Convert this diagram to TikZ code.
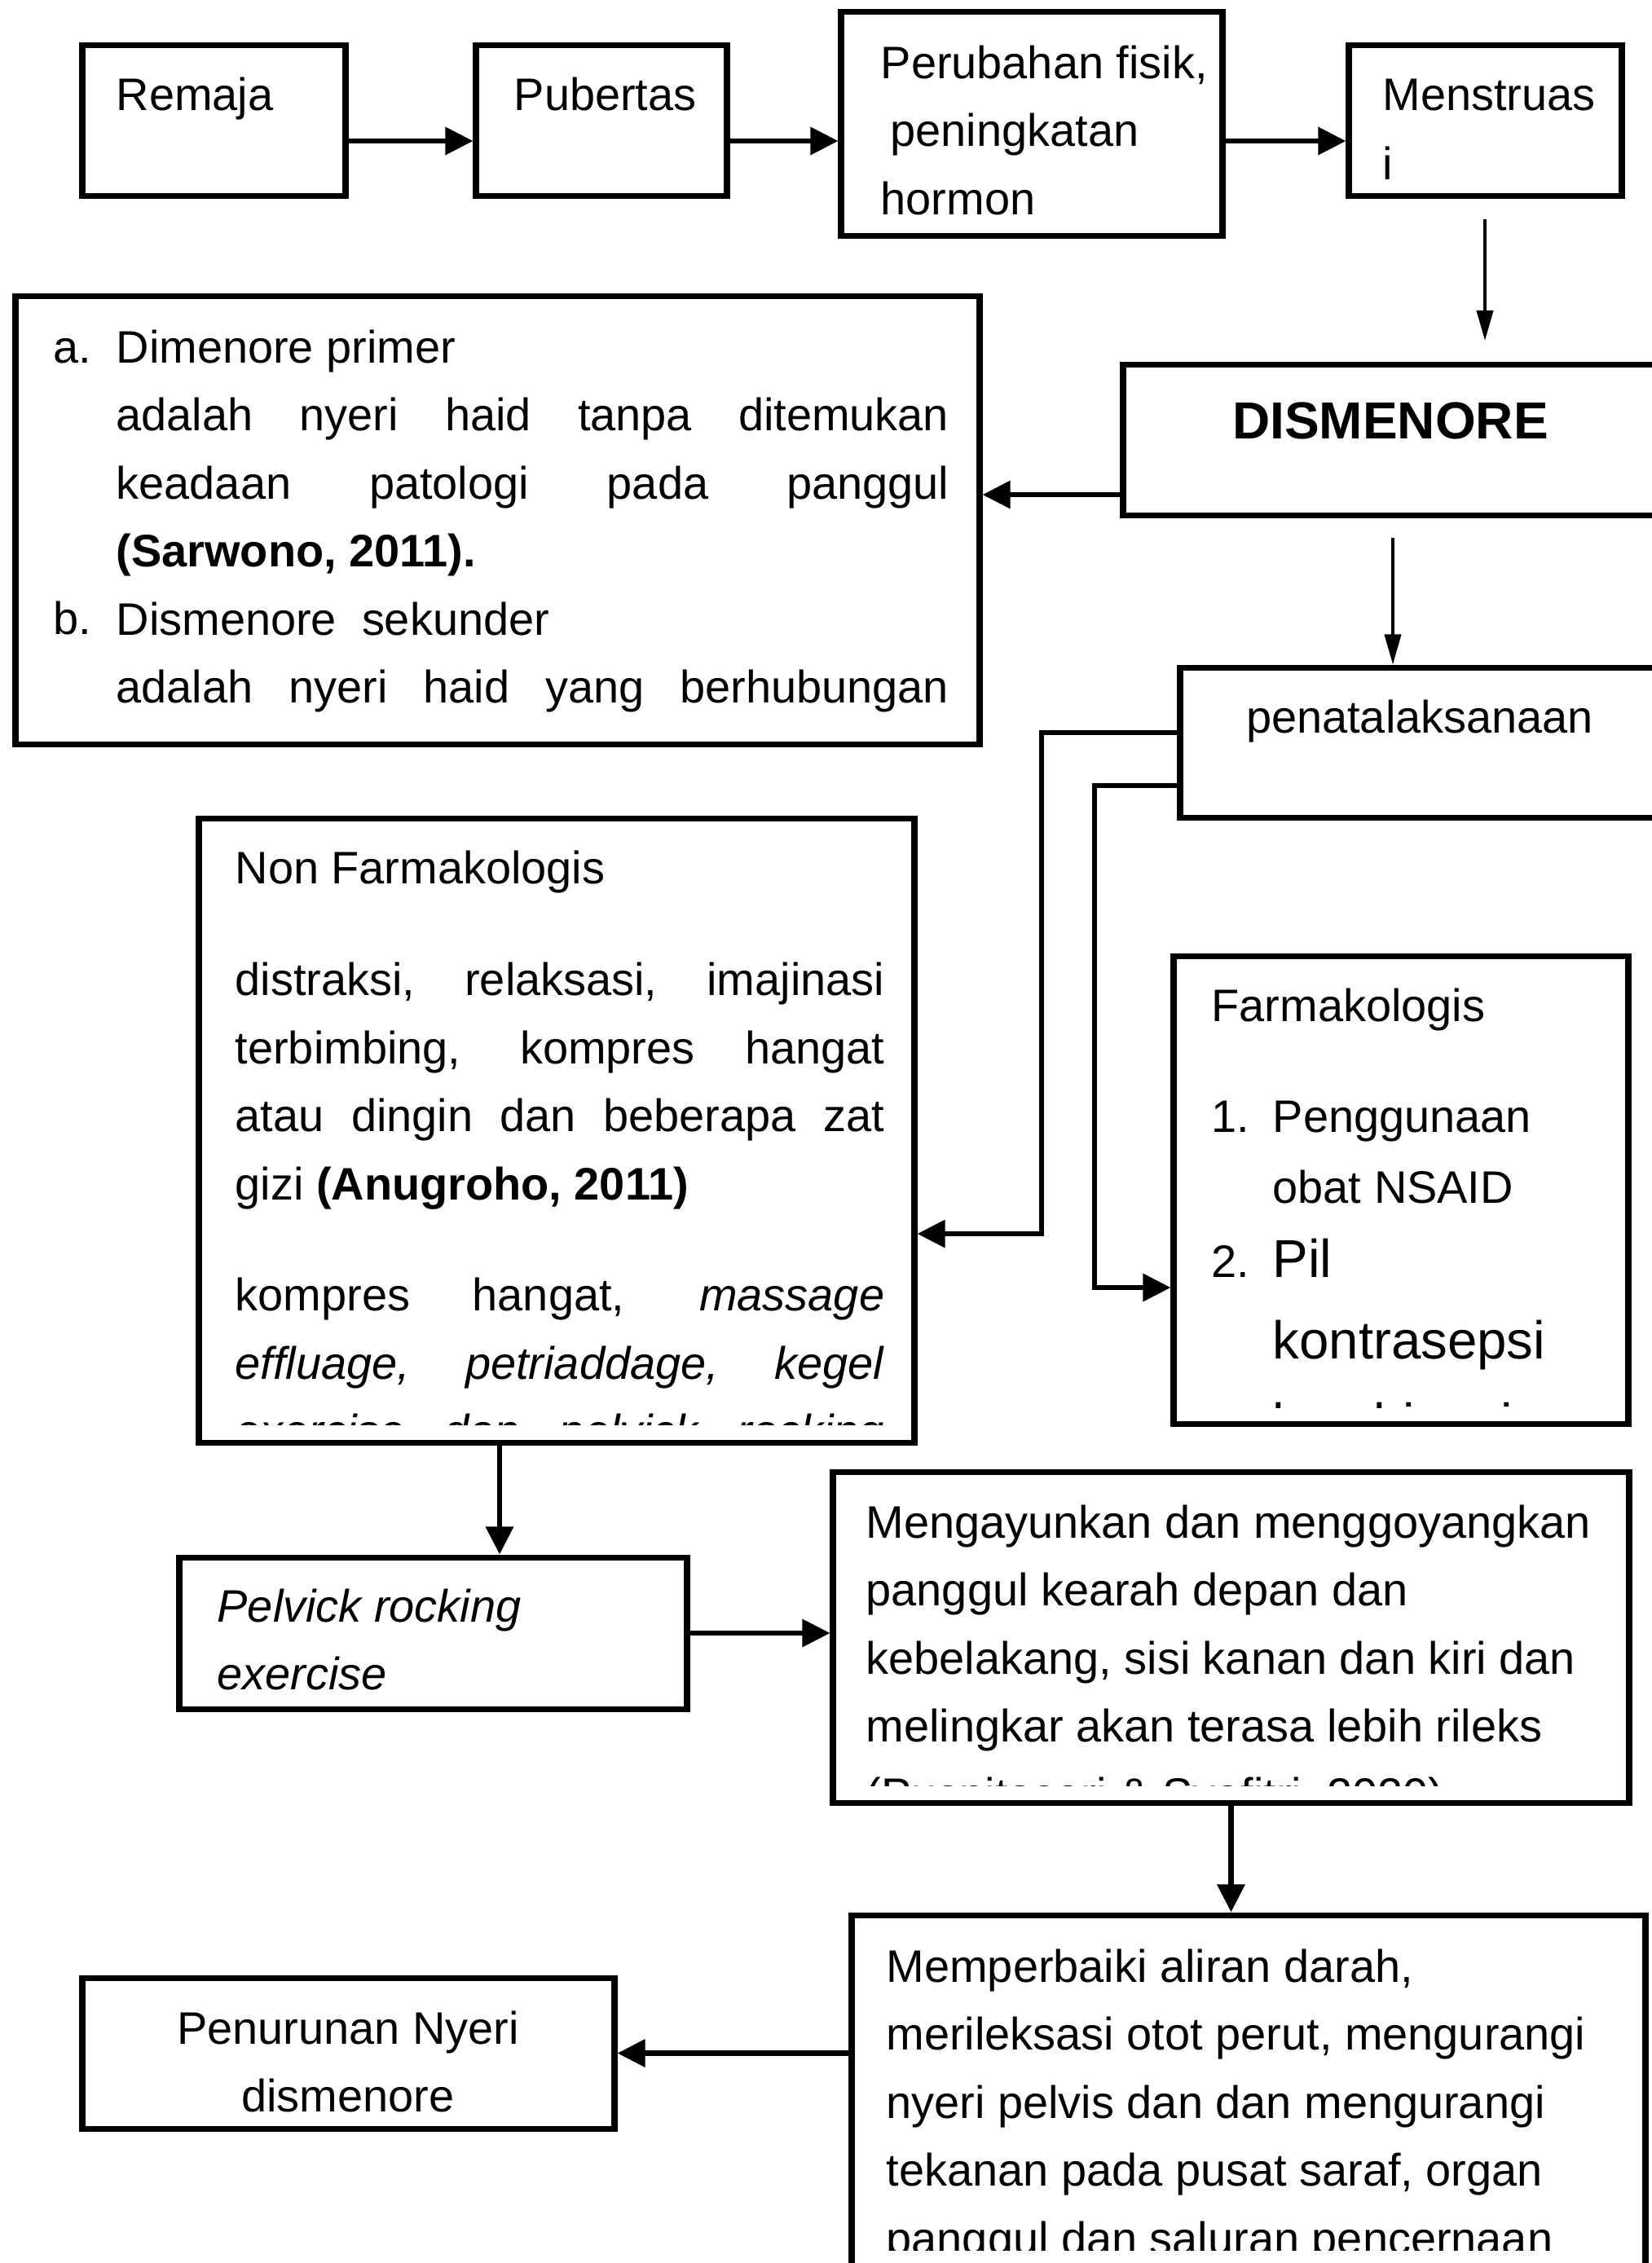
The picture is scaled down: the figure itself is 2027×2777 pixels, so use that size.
\documentclass[tikz,border=0pt]{standalone}
\usepackage{fontspec}
\setmainfont{Liberation Sans}
\usetikzlibrary{arrows.meta, fit, calc}
\newcommand{\bodyfont}{\fontsize{15.9pt}{23.75pt}\selectfont}
\newcommand{\jl}[1]{\noindent\makebox[\linewidth][s]{#1}\par}
\tikzset{
  >={Triangle[length=3.4mm, width=3.3mm]},
  box/.style={draw, line width=2pt, inner sep=0pt},
  txt/.style={anchor=base west, inner sep=0pt, font=\bodyfont},
  conn/.style={->, line width=1.8pt},
  thinconn/.style={-{Triangle[length=3.7mm, width=2mm]}, line width=1.1pt}
}

\begin{document}
\begin{tikzpicture}[x=0.01cm, y=-0.01cm]
    \useasboundingbox (0,0) rectangle (2027,2777);
    \clip (0,0) rectangle (2027,2777);

    % boxes
    \node[box, fit={(101,55) (424,240)}] (remaja) {};
    \node[box, fit={(584,55) (892,240)}] (pubertas) {};
    \node[box, fit={(1032,14) (1500,289)}] (perubahan) {};
    \node[box, fit={(1655,55) (1990,240)}] (mens) {};
    \node[box, fit={(1378,447) (2100,632)}] (dis) {};
    \node[box, fit={(19,363) (1202,913)}] (def) {};
    \node[box, fit={(1448,819) (2100,1003)}] (pena) {};
    \node[box, fit={(244,1004) (1122,1770)}] (nonfarm) {};
    \node[box, fit={(1440,1173) (1998,1747)}] (farm) {};
    \node[box, fit={(220,1911) (843,2097)}] (pelvick) {};
    \node[box, fit={(1022,1806) (1999,2212)}] (ayun) {};
    \node[box, fit={(1045,2350) (2019,2781)}] (baik) {};
    \node[box, fit={(101,2427) (754,2612)}] (turun) {};

    % texts
    \node[txt] (remaja-t) at (142,135) {Remaja};
    \node[txt] (pubertas-t) at (630,135) {Pubertas};
    \node[txt] (perubahan-t) at (1080,96) {\parbox[t]{4.2cm}{Perubahan fisik,\\\hspace*{0.12cm}peningkatan\\hormon}};
    \node[txt] (mens-t) at (1696,135) {\parbox[t]{3cm}{\baselineskip=0.85cm Menstruas\\i}};
    \node[txt, anchor=base, font=\fontsize{18.2pt}{22pt}\selectfont\bfseries] (dis-t) at (1706,538) {DISMENORE};
    \node[txt] (def-a) at (65,445) {a.};
    \node[txt] (def-b) at (65,778) {b.};
    \node[txt] (def-t) at (142,445) {\parbox[t]{10.21cm}{%
        Dimenore primer\par
        \jl{adalah nyeri haid tanpa ditemukan}
        \jl{keadaan patologi pada panggul}
        \textbf{(Sarwono, 2011).}\par
        Dismenore\ \ sekunder\par
        \jl{adalah nyeri haid yang berhubungan}}};
    \node[txt, anchor=base] (pena-t) at (1742,899) {penatalaksanaan};

    \begin{scope}
      \clip (nonfarm.north west) rectangle ($(nonfarm.south east)+(0,-25)$);
      \node[txt] (nonfarm-t) at (288,1084) {\parbox[t]{7.96cm}{%
          Non Farmakologis\par\vspace{0.54cm}
          \jl{distraksi, relaksasi, imajinasi}
          \jl{terbimbing, kompres hangat}
          \jl{atau dingin dan beberapa zat}
          gizi \textbf{(Anugroho, 2011)}\par\vspace{0.53cm}
          \jl{kompres hangat, \textit{massage}}
          \jl{\textit{effluage, petriaddage, kegel}}
          \jl{\textit{exercise dan pelvick rocking}}}};
    \end{scope}

    \begin{scope}
      \clip (farm.north west) rectangle ($(farm.south east)+(0,-23)$);
      \node[txt] (farm-t) at (1486,1253) {Farmakologis};
      \node[txt] (farm-1) at (1486,1389) {1.};
      \node[txt] (farm-1t) at (1561,1389) {\parbox[t]{4cm}{\baselineskip=0.87cm Penggunaan\\obat NSAID}};
      \node[txt] (farm-2) at (1486,1567) {2.};
      \node[txt, font=\fontsize{18.6pt}{28.7pt}\selectfont] (farm-2t) at (1561,1567) {\parbox[t]{4cm}{Pil\\kontrasepsi\\kombinasi}};
    \end{scope}

    \node[txt, font=\bodyfont\itshape] (pelvick-t) at (266,1990) {\parbox[t]{5cm}{Pelvick rocking\\exercise}};

    \begin{scope}
      \clip (ayun.north west) rectangle ($(ayun.south east)+(0,-24)$);
      \node[txt] (ayun-t) at (1062,1887) {\parbox[t]{9.3cm}{Mengayunkan dan menggoyangkan\\panggul kearah depan dan\\kebelakang, sisi kanan dan kiri dan\\melingkar akan terasa lebih rileks\\(Puspitasari \& Syafitri, 2020)}};
    \end{scope}

    \begin{scope}
      \clip (baik.north west) rectangle ($(baik.south east)+(0,-23)$);
      \node[txt] (baik-t) at (1087,2432) {\parbox[t]{9.3cm}{Memperbaiki aliran darah,\\merileksasi otot perut, mengurangi\\nyeri pelvis dan dan mengurangi\\tekanan pada pusat saraf, organ\\panggul dan saluran pencernaan}};
    \end{scope}
    \node[txt, anchor=base] (turun-t) at (427,2508) {\parbox[t]{6cm}{\centering Penurunan Nyeri\\dismenore}};

    % connectors
    \coordinate (row1) at (0,173);
    \draw[conn] (remaja.east |- row1) -- (pubertas.west |- row1);
    \draw[conn] (pubertas.east |- row1) -- (perubahan.west |- row1);
    \draw[conn] (perubahan.east |- row1) -- (mens.west |- row1);
    \coordinate (mens-gap) at (1822,269);
    \coordinate (dis-gap) at (1822,418);
    \draw[thinconn] (mens-gap) -- (dis-gap);
    \coordinate (row2) at (0,607);
    \draw[conn] (dis.west |- row2) -- (def.east |- row2);
    \coordinate (dis-gap2) at (1709,660);
    \draw[thinconn] (dis-gap2) -- (dis-gap2 |- pena.north);
    \coordinate (elbow1) at (1278,899);
    \coordinate (elbow2) at (1343,964);
    \coordinate (row3) at (0,1514);
    \coordinate (row4) at (0,1580);
    \draw[conn] (pena.west |- elbow1) -- (elbow1) |- (nonfarm.east |- row3);
    \draw[conn] (pena.west |- elbow2) -- (elbow2) |- (farm.west |- row4);
    \coordinate (col1) at (613,0);
    \draw[conn] (nonfarm.south -| col1) -- (pelvick.north -| col1);
    \draw[conn] (pelvick.east) -- (ayun.west |- pelvick.east);
    \draw[conn] (ayun.south) -- (ayun.south |- baik.north);
    \draw[conn] (baik.west |- turun.east) -- (turun.east);
\end{tikzpicture}
\end{document}
